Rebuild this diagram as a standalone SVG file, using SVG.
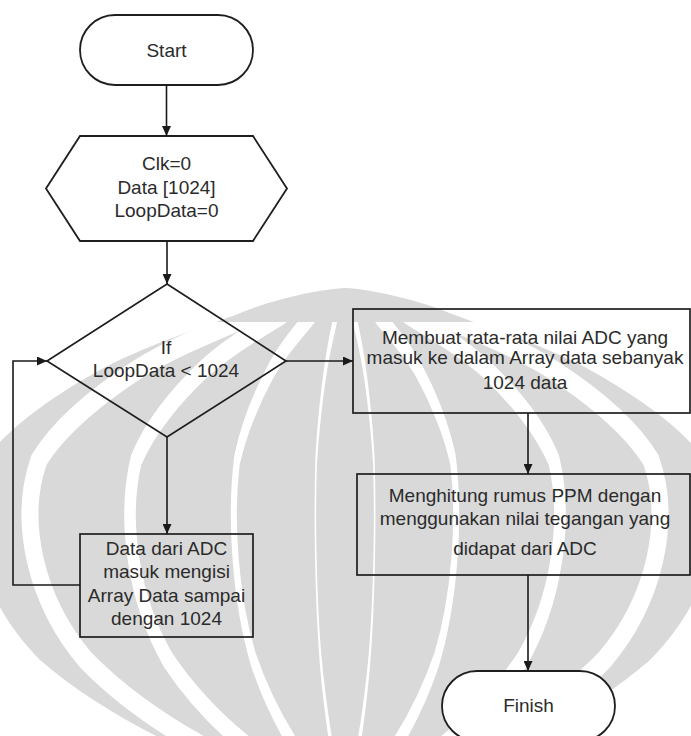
<svg xmlns="http://www.w3.org/2000/svg" width="691" height="736" viewBox="0 0 691 736">
  <defs>
    <marker id="arrow" markerUnits="userSpaceOnUse" markerWidth="11" markerHeight="9" refX="10" refY="4.5" orient="auto">
      <path d="M0,0 L10,4.5 L0,9 Z" fill="#1a1a1a"/>
    </marker>
    <!-- one half of a meridian of the emblem, top pole to bottom pole -->
    <path id="meridian" d="M345,288 C320,289 270,300 238,314 C200,328 140,348 100,370 C60,392 10,425 -15,460 C-40,520 -20,600 40,660 C120,730 260,790 345,800"/>
    <clipPath id="below-crown">
      <rect x="-50" y="322" width="800" height="500"/>
    </clipPath>
    <style>
      .shape { fill: none; stroke: #1e1e1e; stroke-width: 1.7; }
      .term { fill: #ffffff; stroke: #1e1e1e; stroke-width: 1.8; }
      .conn { fill: none; stroke: #1a1a1a; stroke-width: 1.6; }
      .lbl { font-family: "Liberation Sans", Arial, sans-serif; font-size: 19px; fill: #2b2b2b; text-anchor: middle; }
      .wm { fill: #d9d9d9; }
      .gap { fill: none; stroke: #ffffff; stroke-width: 20; vector-effect: non-scaling-stroke; }
    </style>
  </defs>

  <rect width="691" height="736" fill="#ffffff"/>

  <!-- faint background emblem: a globe-like body cut by white meridians -->
  <g id="watermark">
    <path class="wm" d="M345,288 C320,289 270,300 238,314 C200,328 140,348 100,370 C60,392 10,425 -15,460 C-40,520 -20,600 40,660 C120,730 260,790 345,800 C430,790 570,730 650,660 C710,600 730,520 705,460 C680,425 630,392 590,370 C550,348 490,328 452,314 C420,300 370,289 345,288 Z"/>
    <g clip-path="url(#below-crown)">
      <use href="#meridian" class="gap" transform="translate(345,0) scale(0.08,1) translate(-345,0)"/>
      <use href="#meridian" class="gap" transform="translate(345,0) scale(-0.08,1) translate(-345,0)"/>
      <use href="#meridian" class="gap" transform="translate(345,0) scale(0.3,1) translate(-345,0)"/>
      <use href="#meridian" class="gap" transform="translate(345,0) scale(-0.3,1) translate(-345,0)"/>
      <use href="#meridian" class="gap" transform="translate(345,0) scale(0.58,1) translate(-345,0)"/>
      <use href="#meridian" class="gap" transform="translate(345,0) scale(-0.58,1) translate(-345,0)"/>
      <use href="#meridian" class="gap" transform="translate(345,0) scale(0.85,1) translate(-345,0)"/>
      <use href="#meridian" class="gap" transform="translate(345,0) scale(-0.85,1) translate(-345,0)"/>
    </g>
  </g>

  <g id="start">
    <rect class="term" x="80" y="15" width="173" height="70" rx="35" ry="35"/>
    <text class="lbl" x="166.5" y="57">Start</text>
  </g>

  <g id="init">
    <polygon class="term" points="80,136 253,136 287,188.5 253,241 80,241 46,188.5"/>
    <text class="lbl" x="166.5" y="170">Clk=0</text>
    <text class="lbl" x="166.5" y="194">Data [1024]</text>
    <text class="lbl" x="166.5" y="217">LoopData=0</text>
  </g>

  <g id="decision">
    <polygon class="shape" points="167,284 286,361 167,437 47,361"/>
    <text class="lbl" x="166" y="354">If</text>
    <text class="lbl" x="166" y="377">LoopData &lt; 1024</text>
  </g>

  <g id="fill-array">
    <rect class="shape" x="80" y="534" width="173" height="103"/>
    <text class="lbl" x="166.5" y="555">Data dari ADC</text>
    <text class="lbl" x="166.5" y="578">masuk mengisi</text>
    <text class="lbl" x="166.5" y="602">Array Data sampai</text>
    <text class="lbl" x="166.5" y="625">dengan 1024</text>
  </g>

  <g id="average">
    <rect class="shape" x="353" y="309" width="337" height="104"/>
    <text class="lbl" x="525" y="344">Membuat rata-rata nilai ADC yang</text>
    <text class="lbl" x="525" y="364">masuk ke dalam Array data sebanyak</text>
    <text class="lbl" x="525" y="389">1024 data</text>
  </g>

  <g id="ppm">
    <rect class="shape" x="357" y="474" width="333" height="101"/>
    <text class="lbl" x="525" y="502">Menghitung rumus PPM dengan</text>
    <text class="lbl" x="525" y="525">menggunakan nilai tegangan yang</text>
    <text class="lbl" x="525" y="555">didapat dari ADC</text>
  </g>

  <g id="finish">
    <rect class="term" x="442" y="671" width="173" height="70" rx="35" ry="35"/>
    <text class="lbl" x="528.5" y="712">Finish</text>
  </g>

  <g id="connectors">
    <line class="conn" x1="166.5" y1="85" x2="166.5" y2="136" marker-end="url(#arrow)"/>
    <line class="conn" x1="167" y1="241" x2="167" y2="284" marker-end="url(#arrow)"/>
    <line class="conn" x1="286" y1="361" x2="353" y2="361" marker-end="url(#arrow)"/>
    <line class="conn" x1="167" y1="437" x2="167" y2="534" marker-end="url(#arrow)"/>
    <polyline class="conn" points="80,585 13,585 13,361 47,361" marker-end="url(#arrow)"/>
    <line class="conn" x1="528" y1="413" x2="528" y2="474" marker-end="url(#arrow)"/>
    <line class="conn" x1="528" y1="575" x2="528" y2="671" marker-end="url(#arrow)"/>
  </g>
</svg>
